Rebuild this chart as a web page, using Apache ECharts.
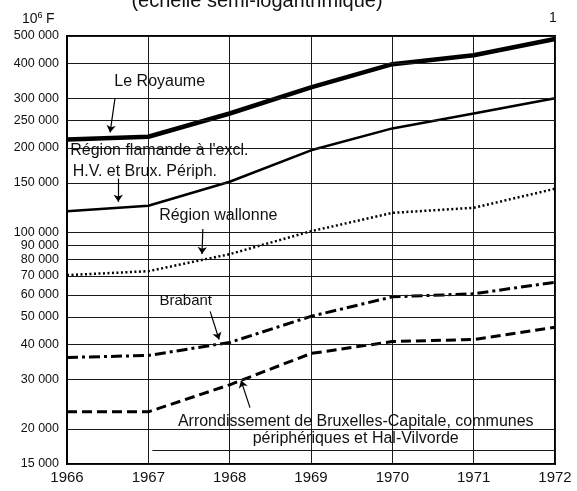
<!DOCTYPE html>
<html>
<head>
<meta charset="utf-8">
<script src="https://cdn.jsdelivr.net/npm/echarts@6/dist/echarts.min.js"></script>
<style>
  html, body { margin: 0; background: #fff; }
  #chart { width: 577px; height: 491px; }
</style>
</head>
<body>
<div id="chart"></div>
<script>
// years on the x axis
const years = [1966, 1967, 1968, 1969, 1970, 1971, 1972]
// values in 10^6 F
const royaume   = [214000, 219000, 265000, 328000, 397000, 427000, 488000]
const flamande  = [119000, 124500, 151500, 196000, 234500, 265000, 300000]
const wallonne  = [70500, 72800, 83700, 101000, 117400, 122400, 143000]
const brabant   = [35900, 36500, 40600, 50300, 59000, 60500, 66500]
const bruxelles = [23000, 23000, 28700, 37100, 40900, 41600, 46000]
// labelled horizontal rules of the log scale
const yTicks = [500000, 400000, 300000, 250000, 200000, 150000, 100000, 90000, 80000, 70000, 60000, 50000, 40000, 30000, 20000, 15000]

const FONT = 'Liberation Sans, Arial, sans-serif'
const fmt = v => String(v).replace(/\B(?=(\d{3})+(?!\d))/g, ' ')

// annotation texts, anchored in data coordinates [year, value]
const notes = [
  { text: 'Le Royaume', at: [1967.14, 345000], align: 'center', size: 16 },
  { text: 'Région flamande à l\'excl.', at: [1966.04, 195700], align: 'left', size: 16 },
  { text: 'H.V. et Brux. Périph.', at: [1966.07, 164500], align: 'left', size: 16 },
  { text: 'Région wallonne', at: [1967.86, 114500], align: 'center', size: 16 },
  { text: 'Brabant', at: [1967.46, 56900], align: 'center', size: 15 },
  { text: 'Arrondissement de Bruxelles-Capitale, communes', at: [1969.55, 21200], align: 'center', size: 16 },
  { text: 'périphériques et Hal-Vilvorde', at: [1969.55, 18400], align: 'center', size: 16 },
]
// arrows: from label to curve
const arrows = [
  [[1966.59, 300000], [1966.53, 227000]],
  [[1966.63, 155400], [1966.63, 128500]],
  [[1967.67, 102900], [1967.66, 83800]],
  [[1967.76, 52400], [1967.87, 41600]],
  [[1968.25, 23800], [1968.14, 29700]],
]

const chart = echarts.init(document.getElementById('chart'))

const serie = (name, vals, width, type) => ({
  name, type: 'line', z: 3, symbol: 'none', data: years.map((y, i) => [y, vals[i]]),
  lineStyle: { color: '#000', width, type, cap: 'butt' },
})

chart.setOption({
  animation: false,
  textStyle: { fontFamily: FONT },
  grid: { left: 67, right: 22, top: 36, bottom: 27, show: true, borderColor: '#000', borderWidth: 2 },
  xAxis: {
    type: 'value', min: 1966, max: 1972, interval: 1,
    axisLine: { lineStyle: { color: '#000', width: 2 } },
    axisTick: { show: false },
    axisLabel: { fontSize: 15, color: '#111', margin: 6, fontFamily: FONT, formatter: v => String(v) },
    splitLine: { show: true, lineStyle: { color: '#1a1a1a', width: 1 } },
  },
  yAxis: {
    type: 'log', logBase: 10, min: 15000, max: 500000,
    axisLine: { show: true, lineStyle: { color: '#000', width: 2 } },
    axisTick: { show: false }, axisLabel: { show: false }, splitLine: { show: false },
  },
  series: [
    {
      type: 'line', data: [], z: 1,
      markLine: {
        silent: true, symbol: 'none',
        lineStyle: { color: '#1a1a1a', width: 1, type: 'solid' },
        label: { position: 'start', distance: 8, fontSize: 12.5, color: '#111', fontFamily: FONT, formatter: p => fmt(p.value) },
        data: yTicks.map(v => ({ yAxis: v })).concat([
          [{ coord: [1967.05, 16800], label: { show: false } }, { coord: [1972, 16800] }],
        ]),
      },
    },
    {
      type: 'line', data: [], z: 2,
      markLine: {
        silent: true, symbol: ['none', 'arrow'], symbolSize: 7,
        lineStyle: { color: '#000', width: 1.2, type: 'solid' },
        label: { show: false },
        data: arrows.map(a => [{ coord: a[0] }, { coord: a[1] }]),
      },
    },
    serie('Le Royaume', royaume, 4.5, 'solid'),
    serie('Région flamande', flamande, 2.5, 'solid'),
    serie('Région wallonne', wallonne, 2.5, [2, 2.5]),
    serie('Brabant', brabant, 3, [11, 4, 3, 4]),
    serie('Bruxelles', bruxelles, 3, [10, 5]),
  ],
})

const graphics = [
  { type: 'text', x: 257, y: -9, style: { text: '(échelle semi-logarithmique)', font: '20px ' + FONT, fill: '#111', align: 'center' } },
  { type: 'text', left: 22, top: 11, style: { text: '{a|10}{s|6} {a|F}', rich: { a: { fontSize: 14, fontFamily: FONT, fill: '#111' }, s: { fontSize: 9, fontFamily: FONT, verticalAlign: 'top', padding: [0, 0, 8, 0] } } } },
  { type: 'text', left: 549, top: 11, style: { text: '1', font: '14px ' + FONT, fill: '#111' } },
]
notes.forEach(n => {
  const p = chart.convertToPixel({ gridIndex: 0 }, n.at)
  graphics.push({
    type: 'text', x: p[0], y: p[1], z: 10,
    style: { text: n.text, font: n.size + 'px ' + FONT, fill: '#111', align: n.align, verticalAlign: 'middle' },
  })
})
chart.setOption({ graphic: graphics })
</script>
</body>
</html>
